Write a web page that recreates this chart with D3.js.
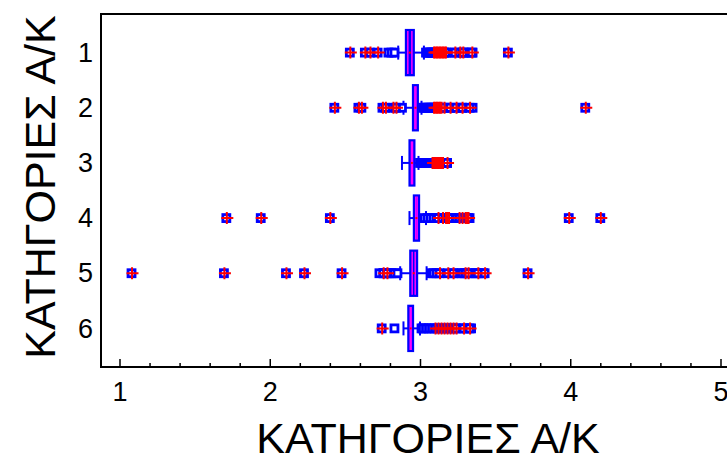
<!DOCTYPE html>
<html><head><meta charset="utf-8">
<script src="https://cdn.jsdelivr.net/npm/d3@7"></script>
<style>
html,body{margin:0;padding:0;background:#fff;}
svg{display:block;font-family:"Liberation Sans",Arial,sans-serif;}
</style></head>
<body>
<svg id="chart" width="727" height="458"></svg>
<script>
const categories = [1, 2, 3, 4, 5, 6];
const q1      = [2.907, 2.954, 2.931, 2.960, 2.936, 2.923];
const median  = [2.932, 2.970, 2.946, 2.976, 2.958, 2.938];
const q3      = [2.958, 2.985, 2.962, 2.993, 2.980, 2.953];
const whiskLo = [2.855, 2.890, 2.880, 2.930, 2.868, 2.890];
const whiskHi = [3.026, 3.010, 2.990, 3.040, 3.044, 3.000];
// outliers (blue squares)
const outliers = [
  [2.79, 2.81, 2.83, 3.04, 3.05, 3.06, 3.07, 3.08, 3.20, 3.29, 3.31, 3.35],
  [2.88, 3.02, 3.03, 3.04, 3.05, 3.06, 3.07, 3.08, 3.09, 3.20, 3.28, 3.35],
  [3.00, 3.01, 3.02, 3.03, 3.04, 3.05, 3.06, 3.07, 3.18],
  [3.03, 3.05, 3.07, 3.09, 3.11, 3.22, 3.24, 3.33],
  [2.73, 2.76, 2.79, 2.81, 2.83, 2.85, 3.077, 3.09, 3.11, 3.26, 3.28, 3.35, 3.37, 3.42],
  [2.83, 3.01, 3.02, 3.04, 3.06, 3.08, 3.26, 3.31, 3.34]
];
// extremes (blue squares with red cross)
const extremes = [
  [2.533, 2.633, 2.667, 2.718, 3.09, 3.10, 3.11, 3.12, 3.13, 3.14, 3.15, 3.16, 3.17, 3.232, 3.265, 3.285, 3.345, 3.585],
  [2.43, 2.59, 2.61, 2.75, 2.77, 2.82, 2.84, 3.09, 3.10, 3.11, 3.12, 3.13, 3.14, 3.16, 3.20, 3.24, 3.28, 3.33, 4.10],
  [3.08, 3.09, 3.10, 3.11, 3.12, 3.13, 3.14, 3.15, 3.18],
  [1.711, 1.94, 2.40, 3.12, 3.15, 3.17, 3.18, 3.19, 3.26, 3.28, 3.30, 3.31, 3.32, 3.99, 4.20],
  [1.08, 1.695, 2.108, 2.228, 2.478, 2.755, 2.78, 3.13, 3.185, 3.22, 3.30, 3.32, 3.385, 3.43, 3.716],
  [2.745, 3.10, 3.12, 3.14, 3.16, 3.18, 3.20, 3.22, 3.24, 3.29, 3.33]
];
const xTicks = [1, 2, 3, 4, 5];
const xMinorTicks = [1.2, 1.4, 1.6, 1.8, 2.2, 2.4, 2.6, 2.8, 3.2, 3.4, 3.6, 3.8, 4.2, 4.4, 4.6, 4.8, 5.2];
const axisTitle = "ΚΑΤΗΓΟΡΙΕΣ Α/Κ";

const svg = d3.select("#chart");
const mLeft = 101, mTop = 14, mBottom = 367, mRight = 740;
const x = d3.scaleLinear().domain([1, 5]).range([119.5, 720.5]);
const y = d3.scaleLinear().domain([0.3, 6.7]).range([mTop, mBottom]);

const BLUE = "#0000ff", RED = "#ff0000", MAG = "#ff00ff";
const boxHalf = 22.5, capHalf = 7;

const rows = categories.map((c, i) => ({c, i}));
const g = svg.append("g");

// whiskers
rows.forEach(({c, i}) => {
  const yc = y(c);
  g.append("line").attr("x1", x(whiskLo[i])).attr("x2", x(whiskHi[i]))
    .attr("y1", yc).attr("y2", yc).attr("stroke", BLUE).attr("stroke-width", 2);
  [whiskLo[i], whiskHi[i]].forEach(v => {
    g.append("line").attr("x1", x(v)).attr("x2", x(v))
      .attr("y1", yc - capHalf).attr("y2", yc + capHalf)
      .attr("stroke", BLUE).attr("stroke-width", 2);
  });
});

// boxes
rows.forEach(({c, i}) => {
  const yc = y(c);
  const x0 = x(q1[i]), x1 = x(q3[i]);
  g.append("rect").attr("x", x0).attr("y", yc - boxHalf)
    .attr("width", x1 - x0).attr("height", 2 * boxHalf)
    .attr("fill", BLUE).attr("stroke", BLUE).attr("stroke-width", 2.4);
  [x0 + 1.8, x1 - 1.8].forEach(xx => {
    g.append("line").attr("x1", xx).attr("x2", xx)
      .attr("y1", yc - boxHalf + 1).attr("y2", yc + boxHalf - 1)
      .attr("stroke", MAG).attr("stroke-width", 1.5);
  });
  g.append("line").attr("x1", x(median[i]) - 1).attr("x2", x(median[i]) + 1)
    .attr("y1", yc).attr("y2", yc).attr("stroke", RED).attr("stroke-width", 2);
});

// points
const sq = 7;
rows.forEach(({c, i}) => {
  const yc = y(c);
  outliers[i].concat(extremes[i]).forEach(v => {
    g.append("rect").attr("x", x(v) - sq / 2).attr("y", yc - sq / 2)
      .attr("width", sq).attr("height", sq)
      .attr("fill", "#fff").attr("stroke", BLUE).attr("stroke-width", 2.8);
  });
});
rows.forEach(({c, i}) => {
  const yc = y(c);
  extremes[i].forEach(v => {
    const xc = x(v);
    g.append("path")
      .attr("d", `M${xc - 5},${yc}H${xc + 7}M${xc + 0.5},${yc - 6}V${yc + 6}`)
      .attr("stroke", RED).attr("stroke-width", 2).attr("fill", "none");
  });
});

// frame
svg.append("path").attr("d", `M${mRight},${mTop}H${mLeft}V${mBottom}H${mRight}`)
  .attr("fill", "none").attr("stroke", "#000").attr("stroke-width", 2);

// x axis
const xa = svg.append("g").attr("transform", `translate(0,${mBottom})`)
  .call(d3.axisBottom(x).tickValues(xTicks).tickSize(-8).tickPadding(15).tickFormat(d3.format("d")));
xa.select(".domain").remove();
xa.selectAll("line").attr("stroke", "#000").attr("stroke-width", 1.5);
xa.selectAll("text").attr("font-size", 27).attr("fill", "#000")
  .attr("font-family", "Liberation Sans, Arial, sans-serif");
const xm = svg.append("g").attr("transform", `translate(0,${mBottom})`)
  .call(d3.axisBottom(x).tickValues(xMinorTicks).tickSize(-4).tickFormat(""));
xm.select(".domain").remove();
xm.selectAll("line").attr("stroke", "#000").attr("stroke-width", 1.5);

// y axis
const ya = svg.append("g").attr("transform", `translate(${mLeft},0)`)
  .call(d3.axisLeft(y).tickValues(categories).tickSize(0).tickPadding(8).tickFormat(d3.format("d")));
ya.select(".domain").remove();
ya.selectAll("text").attr("font-size", 27).attr("fill", "#000")
  .attr("font-family", "Liberation Sans, Arial, sans-serif");

// titles
svg.append("text").attr("x", 428).attr("y", 453).attr("text-anchor", "middle")
  .attr("font-size", 43).attr("fill", "#000").text(axisTitle);
svg.append("text").attr("transform", "translate(55,187) rotate(-90)").attr("text-anchor", "middle")
  .attr("font-size", 43).attr("fill", "#000").text(axisTitle);
</script>
</body></html>
